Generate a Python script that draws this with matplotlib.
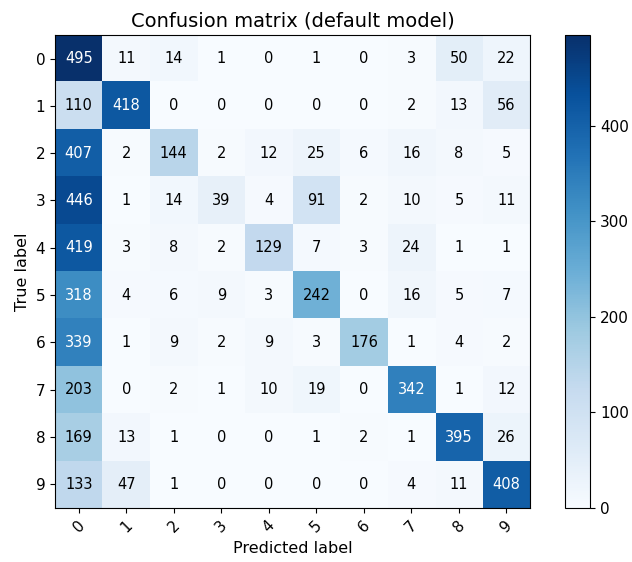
import numpy as np
import matplotlib
matplotlib.use("Agg")
import matplotlib.pyplot as plt

classes = ["0", "1", "2", "3", "4", "5", "6", "7", "8", "9"]

row_0 = [495, 11, 14, 1, 0, 1, 0, 3, 50, 22]
row_1 = [110, 418, 0, 0, 0, 0, 0, 2, 13, 56]
row_2 = [407, 2, 144, 2, 12, 25, 6, 16, 8, 5]
row_3 = [446, 1, 14, 39, 4, 91, 2, 10, 5, 11]
row_4 = [419, 3, 8, 2, 129, 7, 3, 24, 1, 1]
row_5 = [318, 4, 6, 9, 3, 242, 0, 16, 5, 7]
row_6 = [339, 1, 9, 2, 9, 3, 176, 1, 4, 2]
row_7 = [203, 0, 2, 1, 10, 19, 0, 342, 1, 12]
row_8 = [169, 13, 1, 0, 0, 1, 2, 1, 395, 26]
row_9 = [133, 47, 1, 0, 0, 0, 0, 4, 11, 408]

cm = np.array([row_0, row_1, row_2, row_3, row_4,
               row_5, row_6, row_7, row_8, row_9])

fig = plt.figure(figsize=(6.32, 5.62), dpi=100)
ax = fig.add_axes([0.087, 0.096, 0.752, 0.842])
cax = fig.add_axes([0.894, 0.096, 0.040, 0.842])

im = ax.imshow(cm, interpolation="nearest", cmap=plt.cm.Blues, aspect="auto")
cbar = fig.colorbar(im, cax=cax)
cbar.set_ticks([0, 100, 200, 300, 400])
cbar.ax.tick_params(labelsize=11)

ax.set_title("Confusion matrix (default model)", fontsize=14)
ax.set_xticks(np.arange(len(classes)))
ax.set_xticklabels(classes, rotation=45)
ax.set_yticks(np.arange(len(classes)))
ax.set_yticklabels(classes)
ax.tick_params(labelsize=11)

thresh = cm.max() / 2.0
for i in range(cm.shape[0]):
    for j in range(cm.shape[1]):
        ax.text(j, i, format(cm[i, j], "d"),
                ha="center", va="center", fontsize=10.5,
                color="white" if cm[i, j] > thresh else "black")

ax.set_ylabel("True label", fontsize=11.5)
ax.set_xlabel("Predicted label", fontsize=11.5)

fig.savefig("out.png", dpi=100)
